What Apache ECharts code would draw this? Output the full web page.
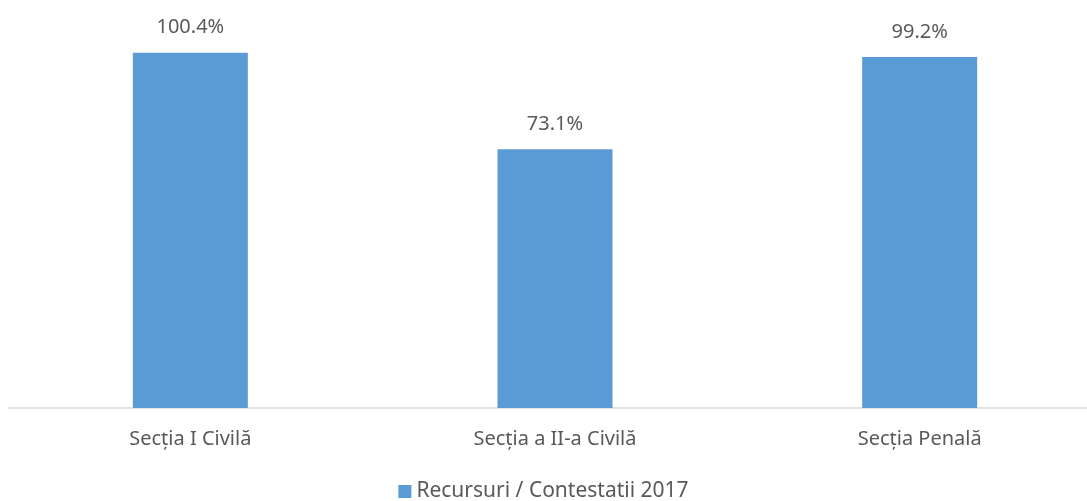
<!DOCTYPE html>
<html><head><meta charset="utf-8">
<script src="https://cdn.jsdelivr.net/npm/echarts@6/dist/echarts.min.js"></script>
<style>html,body{margin:0;padding:0;background:#fff}#c{width:1087px;height:501px}</style>
</head><body><div id="c"></div>
<script>
const categories = ['Secția I Civilă', 'Secția a II-a Civilă', 'Secția Penală'];
const seriesName = 'Recursuri / Contestatii 2017';
const values = [100.4, 73.1, 99.2];

const chart = echarts.init(document.getElementById('c'), null, {renderer: 'canvas'});
const font = 'Noto Sans';
chart.setOption({
  animation: false,
  grid: {left: 8, top: 1, right: -15, bottom: 93, containLabel: false, outerBoundsMode: 'none'},
  legend: {
    bottom: -6, left: 'center', itemWidth: 13, itemHeight: 13, itemGap: 5,
    icon: 'rect',
    textStyle: {fontFamily: font, fontSize: 21, color: '#595959'},
    data: [seriesName]
  },
  xAxis: {
    type: 'category', data: categories,
    axisLine: {lineStyle: {color: '#D9D9D9', width: 1.5}},
    axisTick: {show: false},
    axisLabel: {fontFamily: font, fontSize: 20, color: '#595959', margin: 21}
  },
  yAxis: {
    type: 'value', min: 0, max: 115, show: false, splitLine: {show: false}
  },
  series: [{
    name: seriesName, type: 'bar', data: values, barWidth: 115,
    itemStyle: {color: '#5B9BD5'},
    label: {
      show: true, position: 'top', distance: 15,
      fontFamily: font, fontSize: 20, color: '#595959',
      formatter: p => p.value.toFixed(1) + '%'
    }
  }]
});
</script></body></html>
